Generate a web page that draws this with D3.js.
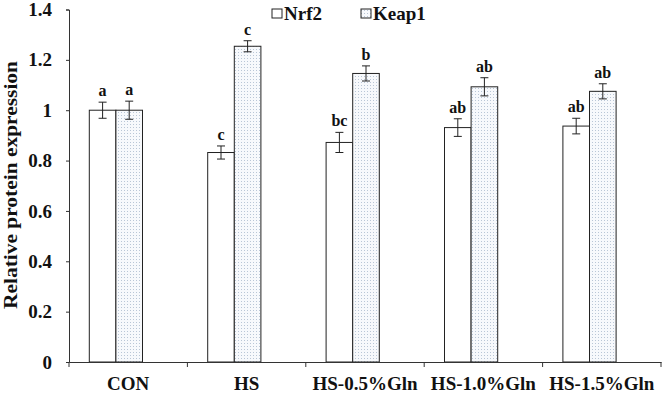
<!DOCTYPE html>
<html>
<head>
<meta charset="utf-8">
<script src="https://cdn.jsdelivr.net/npm/d3@7"></script>
<style>
  body { margin: 0; background: white; }
  text { font-family: "Liberation Serif", "Times New Roman", serif; font-weight: bold; }
</style>
</head>
<body>
<svg></svg>
<script>
var w = 664
var h = 395

var groups = ["CON", "HS", "HS-0.5%Gln", "HS-1.0%Gln", "HS-1.5%Gln"]
var seriesNames = ["Nrf2", "Keap1"]
var nrf2 = [1.0, 0.832, 0.872, 0.931, 0.937]
var nrf2Err = [0.032, 0.026, 0.04, 0.035, 0.031]
var nrf2Letters = ["a", "c", "bc", "ab", "ab"]
var keap1 = [1.0, 1.254, 1.146, 1.093, 1.075]
var keap1Err = [0.036, 0.022, 0.03, 0.036, 0.03]
var keap1Letters = ["a", "c", "b", "ab", "ab"]
var yTicks = [0, 0.2, 0.4, 0.6, 0.8, 1, 1.2, 1.4]

var svg = d3.select("svg")
  .attr("width", w)
  .attr("height", h)
  .style("background-color", "white")

// dotted fill for Keap1
var defs = svg.append("defs")
var pat = defs.append("pattern")
  .attr("id", "dots")
  .attr("width", 3)
  .attr("height", 3)
  .attr("patternUnits", "userSpaceOnUse")
pat.append("rect").attr("width", 3).attr("height", 3).attr("fill", "#f7f9fc")
pat.append("rect").attr("x", 1).attr("y", 1).attr("width", 1).attr("height", 1).attr("fill", "#b9c6d6")

var x = d3.scaleBand()
  .domain(groups)
  .range([69, 661])

// third empty slot keeps bars left-shifted like the original
var xs = d3.scaleBand()
  .domain(["Nrf2", "Keap1", "blank"])
  .range([20.3, 20.3 + 3 * 26.6])

var y = d3.scaleLinear()
  .domain([0, 1.4])
  .range([362, 9.5])

var data = []
groups.forEach(function(g, i) {
  data.push({g: g, s: "Nrf2", v: nrf2[i], e: nrf2Err[i], l: nrf2Letters[i]})
  data.push({g: g, s: "Keap1", v: keap1[i], e: keap1Err[i], l: keap1Letters[i]})
})

// axes
var yAxis = svg.append("g")
  .attr("transform", "translate(69,0)")
  .call(d3.axisLeft(y).tickValues(yTicks).tickSize(3).tickPadding(14).tickFormat(d3.format("~g")))
yAxis.select(".domain").attr("stroke", "#333")
yAxis.selectAll(".tick line").attr("stroke", "#333")
yAxis.selectAll("text").style("font-size", "19px").attr("fill", "#111")

var bars = svg.append("g")
bars.selectAll("rect")
  .data(data)
  .enter().append("rect")
  .attr("x", function(d) { return x(d.g) + xs(d.s) })
  .attr("width", xs.bandwidth())
  .attr("y", function(d) { return y(d.v) })
  .attr("height", function(d) { return y(0) - y(d.v) })
  .attr("fill", function(d) { return d.s == "Nrf2" ? "white" : "url(#dots)" })
  .attr("stroke", "#222")
  .attr("stroke-width", 1)

// error bars
var err = svg.append("g").attr("stroke", "#222").attr("stroke-width", 1)
data.forEach(function(d) {
  var cx = x(d.g) + xs(d.s) + xs.bandwidth() / 2
  err.append("line").attr("x1", cx).attr("x2", cx).attr("y1", y(d.v + d.e)).attr("y2", y(d.v - d.e))
  err.append("line").attr("x1", cx - 4).attr("x2", cx + 4).attr("y1", y(d.v + d.e)).attr("y2", y(d.v + d.e))
  err.append("line").attr("x1", cx - 4).attr("x2", cx + 4).attr("y1", y(d.v - d.e)).attr("y2", y(d.v - d.e))
})

svg.append("g").selectAll("text")
  .data(data)
  .enter().append("text")
  .attr("x", function(d) { return x(d.g) + xs(d.s) + xs.bandwidth() / 2 })
  .attr("y", function(d) { return y(d.v + d.e) - 6 })
  .attr("text-anchor", "middle")
  .style("font-size", "16px")
  .attr("fill", "#111")
  .text(function(d) { return d.l })

var xAxis = svg.append("g")
  .attr("transform", "translate(0,362)")
  .call(d3.axisBottom(x).tickSize(0).tickPadding(15))
xAxis.select(".domain").attr("stroke", "#333")
xAxis.selectAll("text").style("font-size", "19px").attr("fill", "#111")

// category boundary ticks
svg.append("g").selectAll("line")
  .data(groups.concat(["end"]))
  .enter().append("line")
  .attr("x1", function(d, i) { return 69 + i * x.bandwidth() })
  .attr("x2", function(d, i) { return 69 + i * x.bandwidth() })
  .attr("y1", 362)
  .attr("y2", 367)
  .attr("stroke", "#333")

svg.append("text")
  .attr("transform", "translate(17," + 185 + ") rotate(-90)")
  .attr("text-anchor", "middle")
  .attr("textLength", 248)
  .attr("lengthAdjust", "spacingAndGlyphs")
  .style("font-size", "18px")
  .attr("fill", "#111")
  .text("Relative protein expression")

// legend
var legend = svg.append("g")
var legX = [272, 361]
seriesNames.forEach(function(s, i) {
  legend.append("rect")
    .attr("x", legX[i]).attr("y", 9)
    .attr("width", 10).attr("height", 9)
    .attr("fill", i == 0 ? "white" : "url(#dots)")
    .attr("stroke", "#222")
  legend.append("text")
    .attr("x", legX[i] + 12).attr("y", 20)
    .style("font-size", "19px")
    .attr("fill", "#111")
    .text(s)
})
</script>
</body>
</html>
